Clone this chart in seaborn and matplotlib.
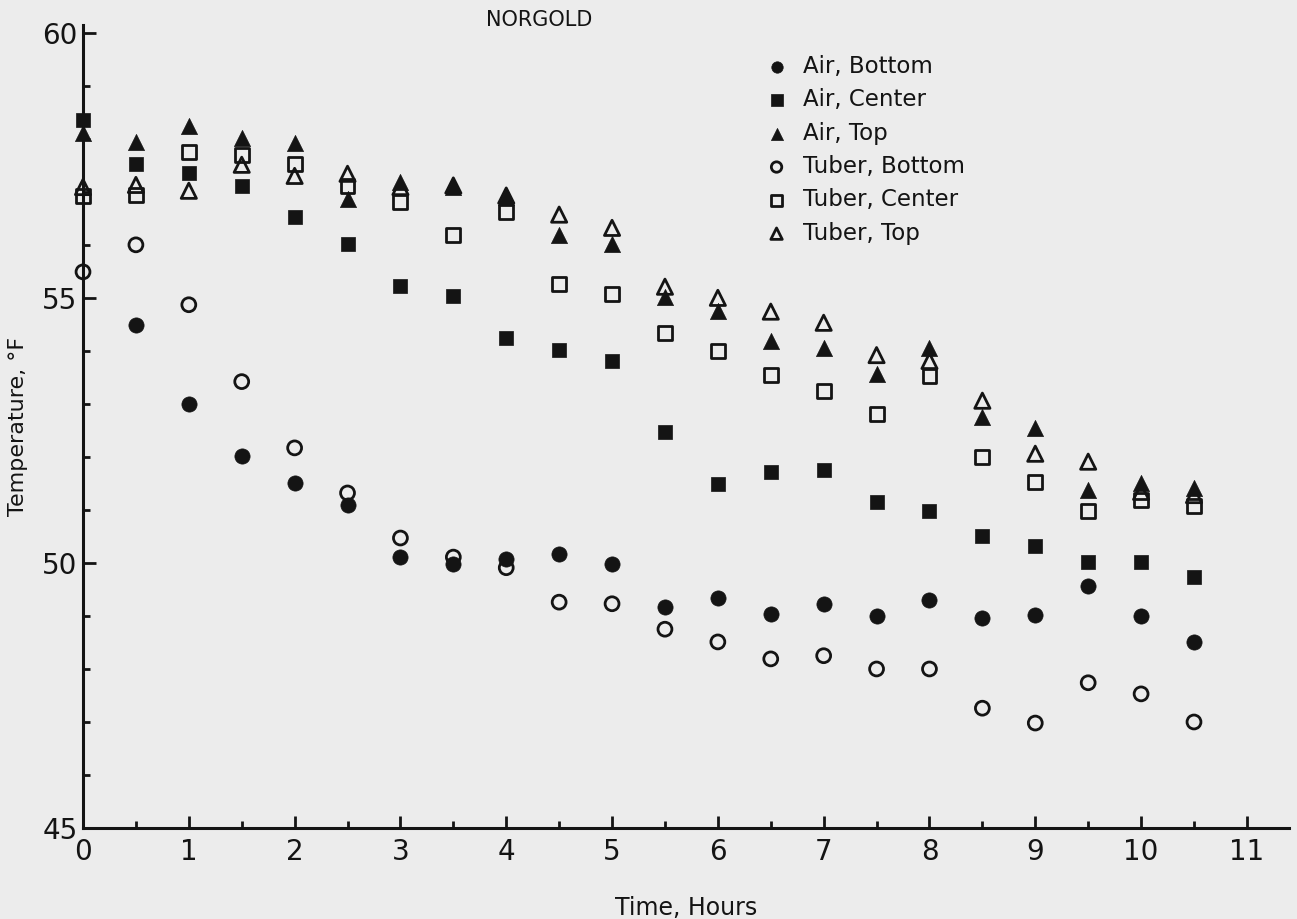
import numpy as np
import pandas as pd
import matplotlib
matplotlib.use("Agg")
import matplotlib.pyplot as plt
from matplotlib.ticker import MultipleLocator
import seaborn as sns

# Time axis (hours), readings every half hour
hours = [0, 0.5, 1, 1.5, 2, 2.5, 3, 3.5, 4, 4.5, 5, 5.5,
         6, 6.5, 7, 7.5, 8, 8.5, 9, 9.5, 10, 10.5]

# Temperatures in deg F (NaN = not visible)
air_bottom = [np.nan, 54.49, 53.00, 52.02, 51.51, 51.09, 50.11, 49.98, 50.08, 50.17, 49.98, 49.17,
              49.34, 49.04, 49.23, 49.00, 49.30, 48.96, 49.02, 49.57, 49.00, 48.51]
air_center = [58.36, 57.53, 57.36, 57.11, 56.53, 56.02, 55.23, 55.04, 54.25, 54.02, 53.81, 52.47,
              51.49, 51.72, 51.75, 51.15, 50.98, 50.51, 50.32, 50.02, 50.02, 49.74]
air_top = [58.11, 57.94, 58.25, 58.02, 57.92, 56.87, 57.19, 57.09, 56.91, 56.19, 56.02, 55.02,
           54.75, 54.19, 54.06, 53.57, 54.06, 52.75, 52.55, 51.38, 51.51, 51.42]
tuber_bottom = [55.49, 56.00, 54.87, 53.42, 52.17, 51.32, 50.47, 50.11, 49.91, 49.26, 49.23, 48.75,
                48.51, 48.19, 48.25, 48.00, 48.00, 47.26, 46.98, 47.74, 47.53, 47.00]
tuber_center = [56.92, 56.94, 57.75, 57.70, 57.53, 57.11, 56.81, 56.19, 56.62, 55.26, 55.08, 54.34,
                54.00, 53.55, 53.25, 52.81, 53.53, 52.00, 51.53, 50.98, 51.19, 51.08]
tuber_top = [57.09, 57.13, 57.02, 57.51, 57.30, 57.34, 57.09, 57.12, 56.93, 56.57, 56.32, 55.21,
             55.00, 54.74, 54.53, 53.92, 53.81, 53.06, 52.06, 51.91, 51.34, 51.28]

series_names = ["Air, Bottom", "Air, Center", "Air, Top",
                "Tuber, Bottom", "Tuber, Center", "Tuber, Top"]
series_values = [air_bottom, air_center, air_top, tuber_bottom, tuber_center, tuber_top]
x_tick_labels = ["0", "1", "2", "3", "4", "5", "6", "7", "8", "9", "10", "11"]

# marker, filled?, size
styles = {
    "Air, Bottom": ("o", True, 120),
    "Air, Center": ("s", True, 115),
    "Air, Top": ("^", True, 135),
    "Tuber, Bottom": ("o", False, 100),
    "Tuber, Center": ("s", False, 100),
    "Tuber, Top": ("^", False, 120),
}

paper = "#ececec"
ink = "#141414"

sns.set_theme(style="ticks")
plt.rcParams["font.family"] = ["DejaVu Sans"]

fig = plt.figure(figsize=(12.97, 9.19), dpi=100, facecolor=paper)
ax = fig.add_axes([0.064, 0.099, 0.930, 0.874])
ax.set_facecolor(paper)

for name, vals in zip(series_names, series_values):
    marker, filled, size = styles[name]
    df = pd.DataFrame({"Time": hours, "Temp": vals}).dropna()
    if filled:
        sns.scatterplot(data=df, x="Time", y="Temp", ax=ax, marker=marker, s=size,
                        color=ink, edgecolor=ink, linewidth=0.5, label=name,
                        zorder=3, clip_on=False)
    else:
        sns.scatterplot(data=df, x="Time", y="Temp", ax=ax, marker=marker, s=size,
                        color=ink, facecolor="none", edgecolor=ink, linewidth=2.0,
                        label=name, zorder=3, clip_on=False)

ax.set_xlim(0, 11.4)
ax.set_ylim(45, 60.15)
ax.xaxis.set_major_locator(MultipleLocator(1))
ax.xaxis.set_minor_locator(MultipleLocator(0.5))
ax.yaxis.set_major_locator(MultipleLocator(5))
ax.yaxis.set_minor_locator(MultipleLocator(1))
ax.set_xticks(range(0, 12))
ax.set_xticklabels(x_tick_labels)

sns.despine(ax=ax)
for side in ["left", "bottom"]:
    ax.spines[side].set_linewidth(2.2)
    ax.spines[side].set_color(ink)

ax.tick_params(axis="both", which="major", direction="in", length=9, width=2.0,
               colors=ink, labelsize=20, pad=7)
ax.tick_params(axis="both", which="minor", direction="in", length=5, width=2.0, colors=ink)
ax.tick_params(axis="y", which="major", pad=4)

ax.set_xlabel("Time, Hours", fontsize=17, color=ink, labelpad=22)
ax.set_ylabel("Temperature, °F", fontsize=16, color=ink, labelpad=10)

fig.text(0.416, 0.978, "NORGOLD", ha="center", va="center", fontsize=15, color=ink)

leg = ax.legend(loc="upper left", bbox_to_anchor=(0.574, 0.950), bbox_transform=fig.transFigure,
                frameon=False, fontsize=16.5, markerscale=0.75, handletextpad=0.15,
                labelspacing=0.45, borderaxespad=0)
for t in leg.get_texts():
    t.set_color(ink)

fig.savefig("out.png", dpi=100, facecolor=paper)
